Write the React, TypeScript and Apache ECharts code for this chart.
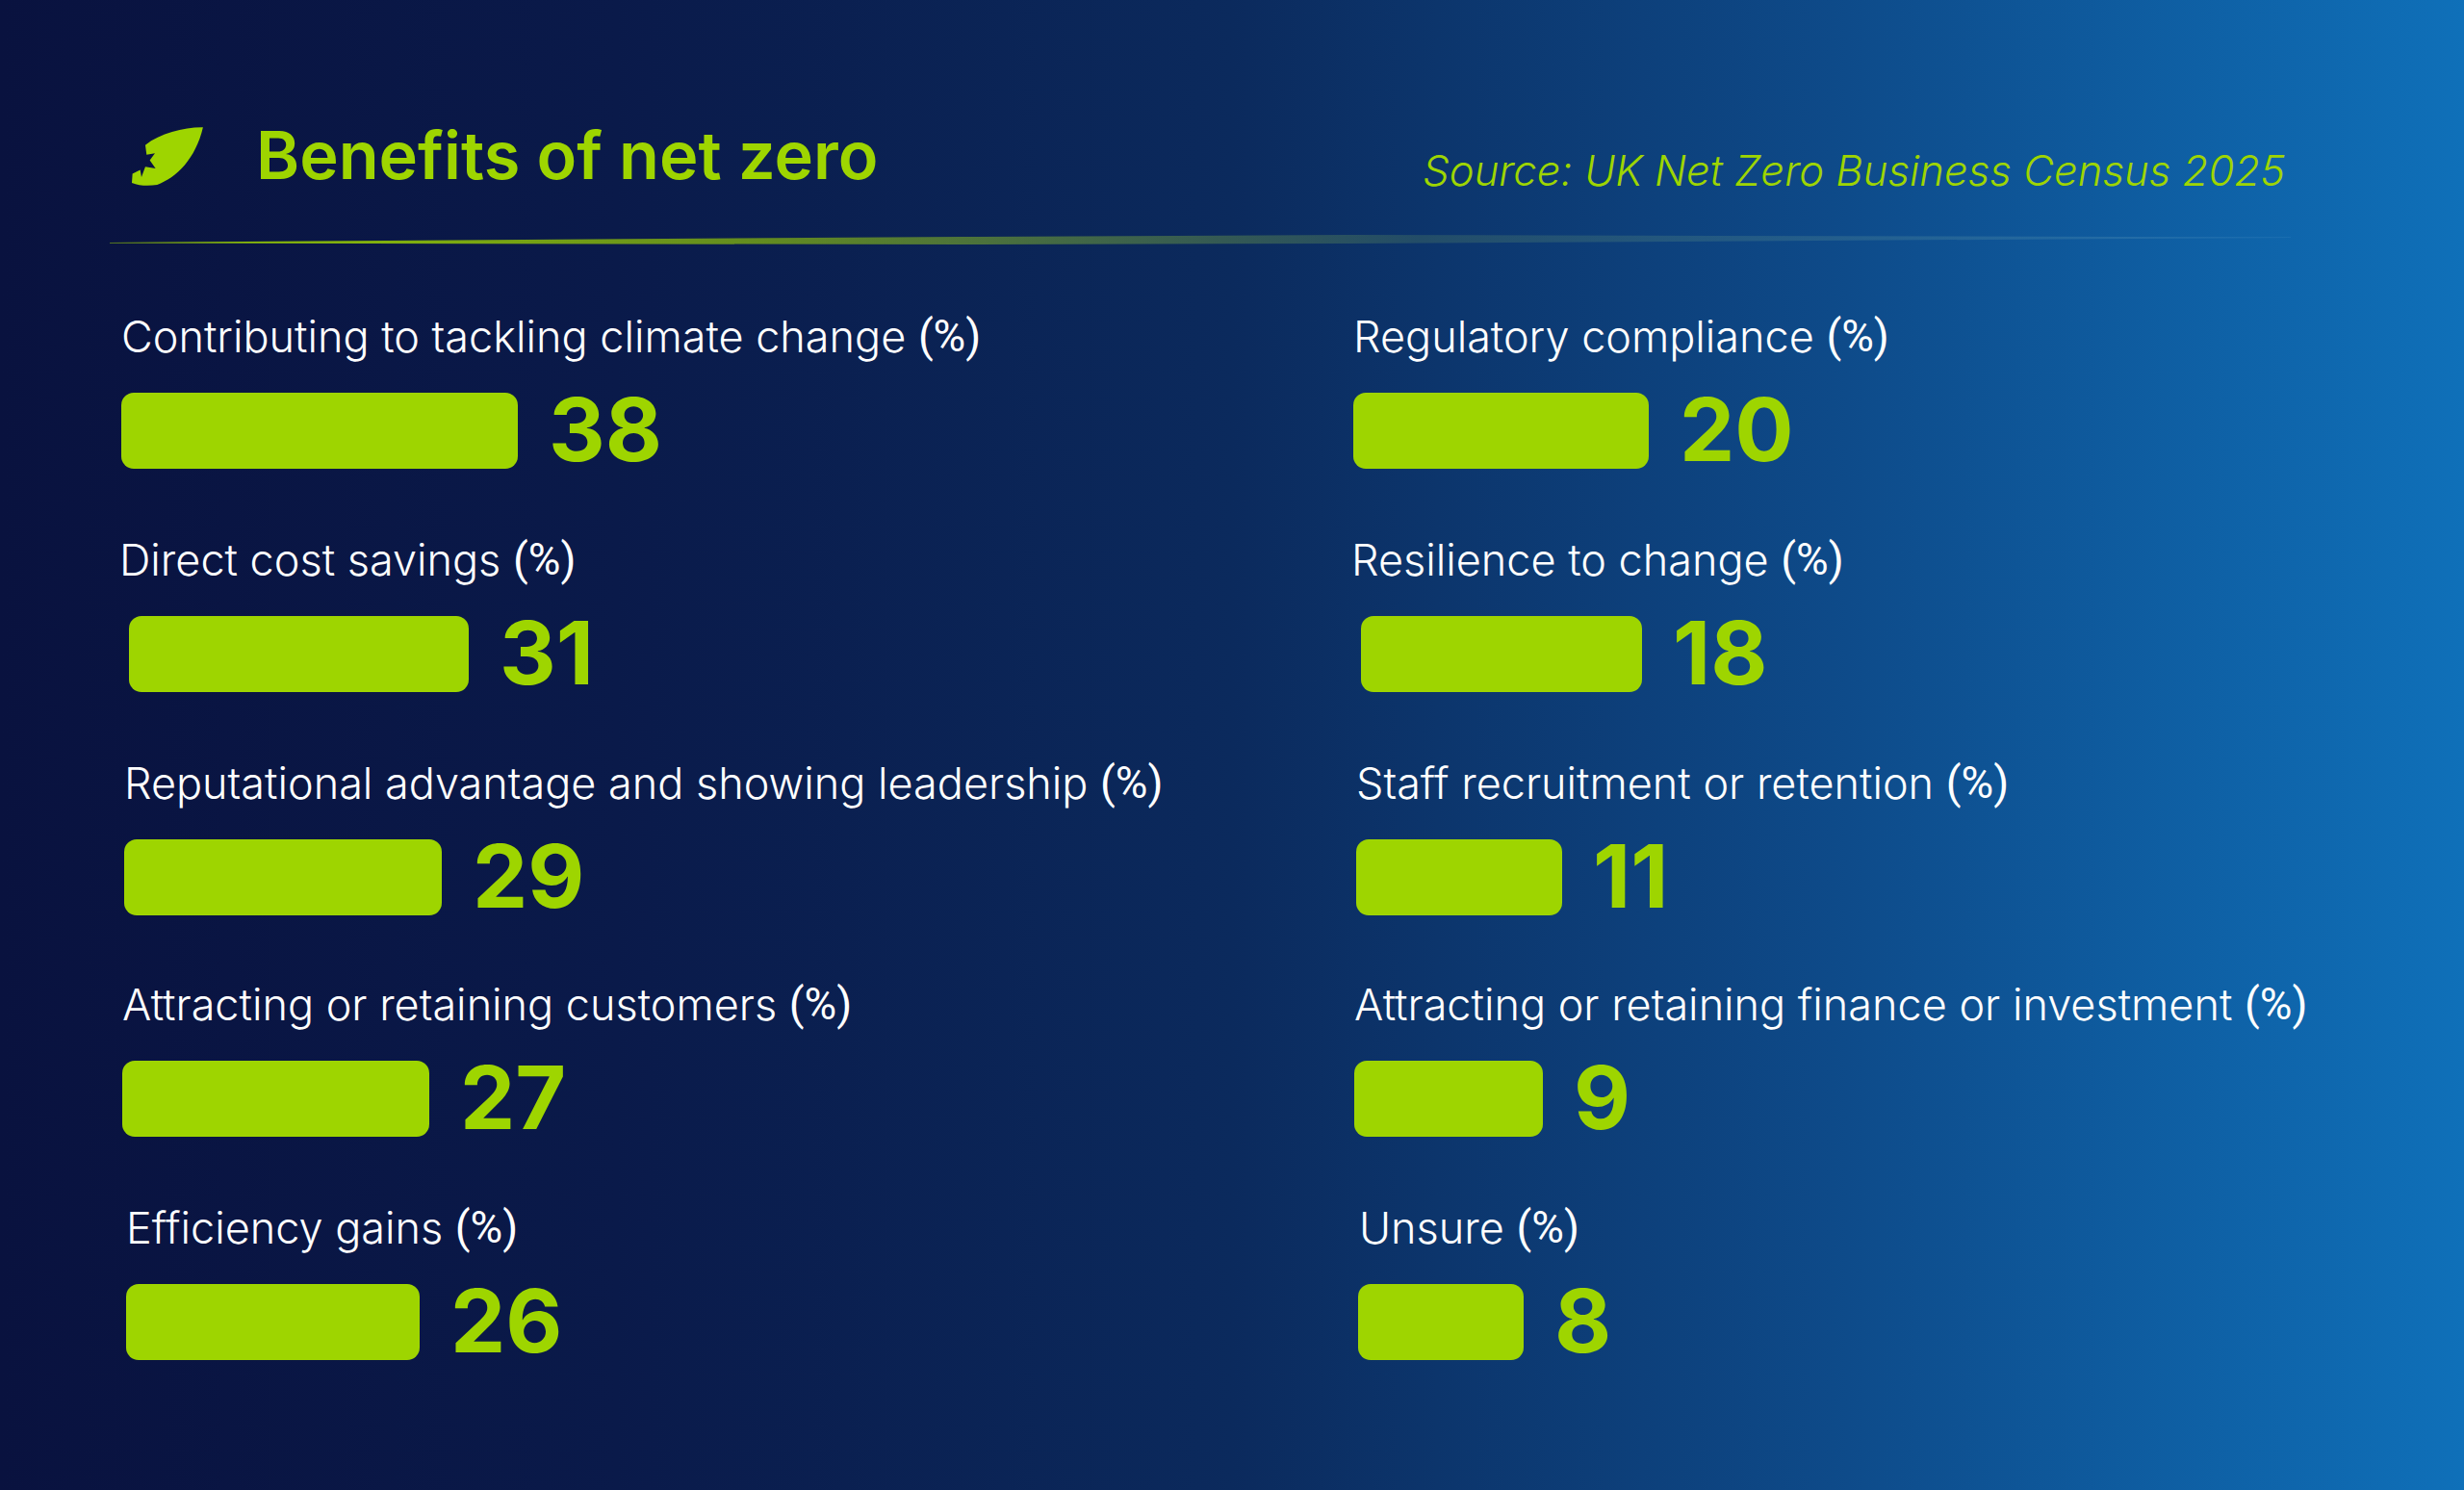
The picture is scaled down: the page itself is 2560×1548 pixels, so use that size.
import React, { useEffect, useRef } from "react";
import * as echarts from "echarts";

const titleText = "Benefits of net zero";
const sourceText = "Source: UK Net Zero Business Census 2025";
const unit = "(%)";
const leftCategories = [
  "Contributing to tackling climate change",
  "Direct cost savings",
  "Reputational advantage and showing leadership",
  "Attracting or retaining customers",
  "Efficiency gains",
];
const rightCategories = [
  "Regulatory compliance",
  "Resilience to change",
  "Staff recruitment or retention",
  "Attracting or retaining finance or investment",
  "Unsure",
];
const leftValues = [38, 31, 29, 27, 26];
const rightValues = [20, 18, 11, 9, 8];

// layout (pixels)
const rowTops = [408, 640, 872, 1102, 1334];
const barHeight = 79;
const leftBarX = [126, 134, 129, 127, 131];
const leftBarW = [412, 353, 330, 319, 305];
const leftLabelX = [126, 124, 129, 127, 131];
const rightBarX = [1406, 1414, 1409, 1407, 1411];
const rightBarW = [307, 292, 214, 196, 172];
const rightLabelX = [1406, 1404, 1409, 1407, 1412];

const GREEN = "#9ed500";
const LEAF = "M258 37 C200 36 125 55 78 92 L82 122 L108 118 L92 140 L110 165 L78 160 L66 192 L62 170 L38 182 L36 210 C60 220 90 220 115 216 C175 195 235 135 258 37 Z";

export default function App() {
  const ref = useRef<HTMLDivElement>(null);
  useEffect(() => {
    document.body.style.margin = "0";
    echarts.graphic.registerShape("leaf", echarts.graphic.extendPath(LEAF, {}) as any);
    const chart = echarts.init(ref.current!, undefined, { renderer: "svg" });

    const cats = [...leftCategories, ...rightCategories];
    const vals = [...leftValues, ...rightValues];
    const xs = [...leftBarX, ...rightBarX];
    const ws = [...leftBarW, ...rightBarW];
    const lxs = [...leftLabelX, ...rightLabelX];
    const tops = [...rowTops, ...rowTops];

    const grid = vals.map((_, i) => ({ left: xs[i], top: tops[i], width: ws[i], height: barHeight }));
    const xAxis = vals.map((v, i) => ({ type: "value", gridIndex: i, min: 0, max: v, show: false }));
    const yAxis = vals.map((_, i) => ({ type: "category", gridIndex: i, data: [cats[i]], show: false }));
    const series = vals.map((v, i) => ({
      type: "bar",
      xAxisIndex: i,
      yAxisIndex: i,
      data: [v],
      barWidth: barHeight,
      silent: true,
      itemStyle: { color: GREEN, borderRadius: 13 },
      label: {
        show: true,
        position: "right",
        distance: 32,
        offset: [0, -2],
        color: GREEN,
        fontFamily: "Inter",
        fontWeight: 700,
        fontSize: 91,
      },
    }));

    const labelTexts = cats.map((c, i) => ({
      type: "text",
      x: lxs[i],
      y: tops[i] - 36,
      style: {
        text: `{a|${c}\u00a0}{b|${unit}}`,
        rich: {
          a: { fontFamily: "Inter", fontWeight: 300, fontSize: 45, fill: "#ffffff", color: "#ffffff" },
          b: { fontFamily: "Roboto", fontWeight: 400, fontSize: 46, fill: "#ffffff", color: "#ffffff" },
        },
        verticalAlign: "bottom",
      },
    }));

    chart.setOption({
      animation: false,
      backgroundColor: {
        type: "linear", x: 0, y: 0, x2: 1, y2: 0,
        colorStops: [
          { offset: 0, color: "#09123f" },
          { offset: 0.25, color: "#0a1a4a" },
          { offset: 0.5, color: "#0b2a5d" },
          { offset: 0.75, color: "#0e4b8a" },
          { offset: 1, color: "#0f70b9" },
        ],
      },
      grid, xAxis, yAxis, series,
      graphic: [
        { type: "leaf", x: 125, y: 120, scaleX: 1 / 3, scaleY: 1 / 3, style: { fill: GREEN } },
        { type: "text", x: 266, y: 196, style: { text: titleText, fontFamily: "Inter", fontWeight: 600, fontSize: 68.5, fill: GREEN, verticalAlign: "bottom" } },
        { type: "text", x: 2374, y: 199, style: { text: sourceText, fontFamily: "Inter", fontWeight: 300, fontStyle: "italic", fontSize: 43.7, fill: GREEN, align: "right", verticalAlign: "bottom" } },
        {
          type: "polygon",
          shape: { points: [[114, 252], [1000, 246], [1400, 244], [2380, 246.5], [2380, 247], [1400, 253], [1000, 254], [114, 252.6]] },
          style: {
            fill: {
              type: "linear", x: 0, y: 0, x2: 1, y2: 0,
              colorStops: [
                { offset: 0, color: "rgba(158,213,0,0.95)" },
                { offset: 0.3, color: "rgba(158,213,0,0.6)" },
                { offset: 0.6, color: "rgba(140,190,90,0.18)" },
                { offset: 1, color: "rgba(150,200,230,0.15)" },
              ],
            },
          },
        },
        ...labelTexts,
      ],
    });
    return () => chart.dispose();
  }, []);
  return <div ref={ref} style={{ position: "absolute", left: 0, top: 0, width: 2560, height: 1548 }} />;
}
